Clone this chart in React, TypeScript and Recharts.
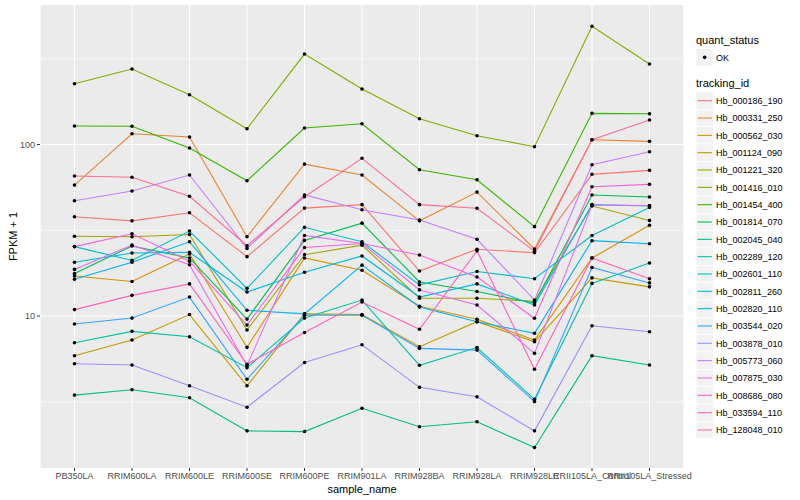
import React from 'react'
import { LineChart, Line, XAxis, YAxis, CartesianGrid, ReferenceLine } from 'recharts'

const samples = [
  'PB350LA', 'RRIM600LA', 'RRIM600LE', 'RRIM600SE', 'RRIM600PE', 'RRIM901LA',
  'RRIM928BA', 'RRIM928LA', 'RRIM928LE', 'RRII105LA_Control', 'RRII105LA_Stressed',
]

const trackingIds = [
  'Hb_000186_190', 'Hb_000331_250', 'Hb_000562_030', 'Hb_001124_090', 'Hb_001221_320',
  'Hb_001416_010', 'Hb_001454_400', 'Hb_001814_070', 'Hb_002045_040', 'Hb_002289_120',
  'Hb_002601_110', 'Hb_002811_260', 'Hb_002820_110', 'Hb_003544_020', 'Hb_003878_010',
  'Hb_005773_060', 'Hb_007875_030', 'Hb_008686_080', 'Hb_033594_110', 'Hb_128048_010',
]

// ggplot default hue palette, 20 levels
const colors = [
  '#F8766D', '#EA8331', '#D89000', '#C09B00', '#A3A500', '#7CAE00', '#39B600', '#00BB4E',
  '#00BF7D', '#00C1A3', '#00BFC4', '#00BAE0', '#00B0F6', '#35A2FF', '#9590FF', '#C77CFF',
  '#E76BF3', '#FA62DB', '#FF62BC', '#FF6C91',
]

// FPKM + 1, one value per sample (same order as samples)
const hb000186_190 = [37.9, 35.9, 40.0, 22.2, 42.6, 44.6, 18.3, 24.5, 23.4, 67.0, 70.7]
const hb000331_250 = [58.0, 115.6, 110.6, 29.0, 76.9, 66.4, 35.9, 52.8, 24.6, 106.6, 104.4]
const hb000562_030 = [17.1, 15.9, 23.0, 6.57, 21.8, 18.5, 11.4, 9.57, 7.25, 21.8, 33.8]
const hb001124_090 = [5.87, 7.25, 10.2, 3.92, 10.3, 10.2, 6.62, 9.27, 7.08, 16.7, 14.8]
const hb001221_320 = [29.2, 29.0, 29.9, 8.29, 22.8, 25.9, 12.7, 12.7, 12.2, 43.8, 36.1]
const hb001416_010 = [226, 275.5, 195, 123.6, 337, 210.7, 141.4, 112.5, 97.1, 489, 294.7]
const hb001454_400 = [128.2, 127.7, 95.4, 61.5, 124.8, 132.2, 71.3, 62.3, 33.2, 152, 151.2]
const hb001814_070 = [17.7, 25.6, 21.8, 9.6, 27.6, 34.8, 15.8, 13.9, 11.9, 50.8, 49.4]
const hb002045_040 = [3.46, 3.72, 3.34, 2.14, 2.12, 2.9, 2.26, 2.42, 1.71, 5.87, 5.18]
const hb002289_120 = [6.99, 8.14, 7.57, 5.0, 9.73, 12.4, 5.16, 6.55, 3.27, 15.5, 20.4]
const hb002601_110 = [25.4, 21.1, 31.3, 14.5, 32.9, 27.1, 15.2, 18.2, 16.5, 29.5, 43.0]
const hb002811_260 = [20.6, 23.3, 23.5, 13.8, 18.0, 22.4, 12.9, 15.4, 11.6, 44.6, 43.8]
const hb002820_110 = [16.4, 20.6, 27.1, 10.8, 10.3, 19.8, 11.3, 9.27, 7.93, 27.5, 26.4]
const hb003544_020 = [8.98, 9.73, 12.9, 4.28, 10.1, 10.1, 6.48, 6.33, 3.17, 19.2, 15.6]
const hb003878_010 = [5.27, 5.18, 3.92, 2.94, 5.36, 6.8, 3.84, 3.38, 2.14, 8.78, 8.1]
const hb005773_060 = [47.0, 53.6, 66.4, 24.8, 50.8, 41.7, 36.3, 28.0, 12.4, 76.2, 90.8]
const hb007875_030 = [18.7, 25.9, 19.9, 5.14, 29.5, 26.5, 14.2, 11.6, 6.06, 44.4, 44.1]
const hb008686_080 = [25.4, 30.2, 20.9, 8.86, 25.1, 26.5, 22.7, 16.9, 9.7, 56.7, 58.6]
const hb033594_110 = [10.9, 13.2, 15.4, 5.23, 8.01, 12.07, 8.37, 24.0, 4.89, 21.8, 16.5]
const hb128048_010 = [65.5, 64.4, 49.9, 25.7, 49.6, 83.1, 44.6, 42.5, 23.9, 106.6, 139]

const seriesValues = [
  hb000186_190, hb000331_250, hb000562_030, hb001124_090, hb001221_320,
  hb001416_010, hb001454_400, hb001814_070, hb002045_040, hb002289_120,
  hb002601_110, hb002811_260, hb002820_110, hb003544_020, hb003878_010,
  hb005773_060, hb007875_030, hb008686_080, hb033594_110, hb128048_010,
]

const yTicks = [10, 100]
const yMinor = [3.162, 31.62, 316.2]

const data = samples.map((sample, i) => {
  const row: Record<string, string | number> = { sample }
  trackingIds.forEach((id, k) => { row[id] = seriesValues[k][i] })
  return row
})

const FONT = '"Liberation Sans", Arial, Helvetica, sans-serif'
const tickStyle = { fontSize: 9, fill: '#4D4D4D', fontFamily: FONT }

function Legend() {
  const keyX = 696
  const keySize = 17.3
  const firstY = 100.7
  const step = 17.33
  return (
    <svg width={800} height={500} style={{ position: 'absolute', left: 0, top: 0, pointerEvents: 'none' }}
      fontFamily={FONT}>
      <text x={keyX} y={44} fontSize={11} fill="#000">quant_status</text>
      <rect x={keyX} y={48.7} width={keySize} height={keySize} fill="#F2F2F2" stroke="#fff" strokeWidth={0.6} />
      <circle cx={keyX + keySize / 2} cy={48.7 + keySize / 2} r={1.8} fill="#000" />
      <text x={716} y={60.5} fontSize={9} fill="#000">OK</text>

      <text x={keyX} y={87} fontSize={11} fill="#000">tracking_id</text>
      {trackingIds.map((id, i) => {
        const cy = firstY + i * step
        return (
          <g key={id}>
            <rect x={keyX} y={cy - keySize / 2} width={keySize} height={keySize} fill="#F2F2F2" stroke="#fff" strokeWidth={0.6} />
            <line x1={keyX + 1.5} x2={keyX + keySize - 1.5} y1={cy} y2={cy} stroke={colors[i]} strokeWidth={1.1} />
            <text x={716} y={cy + 3.2} fontSize={9} fill="#000">{id}</text>
          </g>
        )
      })}

      <text x={16.5} y={236.5} fontSize={11} fill="#000" textAnchor="middle"
        transform="rotate(-90 16.5 236.5)">FPKM + 1</text>
      <text x={362} y={493} fontSize={11} fill="#000" textAnchor="middle">sample_name</text>
    </svg>
  )
}

export default function App() {
  return (
    <div style={{ position: 'relative', width: 800, height: 500, background: '#fff' }}>
      <style>{'body{margin:0}'}</style>
      <LineChart width={800} height={500} data={data} margin={{ top: 5, right: 116, bottom: 0, left: 0 }}>
        <CartesianGrid horizontal={false} stroke="#fff" strokeWidth={1.1} fill="#EBEBEB" fillOpacity={1} />
        {yMinor.map(v => (
          <ReferenceLine key={`mi${v}`} y={v} stroke="#fff" strokeWidth={0.55} />
        ))}
        {yTicks.map(v => (
          <ReferenceLine key={`ma${v}`} y={v} stroke="#fff" strokeWidth={1.1} />
        ))}
        <XAxis dataKey="sample" type="category" scale="point" padding={{ left: 34.5, right: 34.5 }}
          height={32} interval={0} axisLine={false} tickSize={3} tickMargin={2}
          tick={tickStyle} tickLine={{ stroke: '#333', strokeWidth: 1 }} />
        <YAxis type="number" scale="log" domain={[1.3, 651]} allowDataOverflow ticks={yTicks}
          width={40} axisLine={false} tickSize={3} tickMargin={2}
          tick={tickStyle} tickLine={{ stroke: '#333', strokeWidth: 1 }} />
        {trackingIds.map((id, i) => (
          <Line key={id} dataKey={id} stroke={colors[i]} strokeWidth={1.1} type="linear"
            dot={false} activeDot={false} isAnimationActive={false} />
        ))}
        {trackingIds.map(id => (
          <Line key={`pt-${id}`} dataKey={id} stroke="none" type="linear" legendType="none"
            dot={{ r: 1.8, fill: '#000', stroke: 'none' }} activeDot={false} isAnimationActive={false} />
        ))}
      </LineChart>
      <Legend />
    </div>
  )
}
